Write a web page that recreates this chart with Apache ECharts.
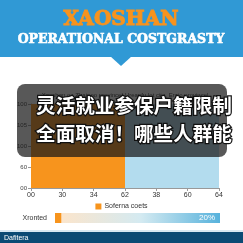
<!DOCTYPE html>
<html><head><meta charset="utf-8">
<script src="https://cdn.jsdelivr.net/npm/echarts@6/dist/echarts.min.js"></script>
<style>html,body{margin:0;padding:0;background:#fff}#c{width:243px;height:243px}</style>
</head><body><div id="c"></div>
<script>
var xLabels = ['00','30','34','62','38','60','64'];
var yLabels = ['00','60','100','105','100'];
var barCategories = ['A','B'];
var barValues = [4, 4];
var barColors = ['#f7941d', '#b3dcee'];
var progressCategories = ['Xronted'];
var progressStart = [4];
var progressRest = [96];
var progressLabel = '20%';
var seriesName = 'Soferna coets';

var chart = echarts.init(document.getElementById('c'));
var F = 'Liberation Sans, Arial, sans-serif';
chart.setOption({
  animation: false,
  backgroundColor: '#fff',
  grid: [
    {left: 31, right: 24, top: 104, bottom: 55},
    {left: 55, right: 23, top: 213, height: 10}
  ],
  xAxis: [
    {gridIndex: 0, type: 'value', min: 0, max: 6, interval: 1,
     axisLine: {show: true, lineStyle: {color: '#999'}},
     axisTick: {show: true, length: 3, lineStyle: {color: '#999'}},
     axisLabel: {fontSize: 7, color: '#333', fontFamily: F, margin: 4, formatter: function(v){return xLabels[v];}},
     splitLine: {show: false}},
    {gridIndex: 0, type: 'category', data: barCategories, show: false, boundaryGap: true},
    {gridIndex: 1, type: 'value', min: 0, max: 100, show: false}
  ],
  yAxis: [
    {gridIndex: 0, type: 'value', min: 0, max: 4, interval: 1,
     axisLine: {show: true, lineStyle: {color: '#999'}},
     axisTick: {show: true, length: 3, lineStyle: {color: '#999'}},
     axisLabel: {fontSize: 6, color: '#444', fontFamily: F, margin: 4, formatter: function(v){return yLabels[v];}},
     splitLine: {show: false}},
    {gridIndex: 1, type: 'category', data: progressCategories,
     axisLine: {show: false}, axisTick: {show: false},
     axisLabel: {fontSize: 7, color: '#333', fontFamily: F, margin: 8}}
  ],
  legend: {top: 198, left: 'center', itemWidth: 6, itemHeight: 6, icon: 'rect', itemGap: 4,
    textStyle: {fontSize: 7, color: '#333', fontFamily: F, padding: [0,0,0,-2]}, data: [seriesName]},
  series: [
    {name: seriesName, type: 'bar', xAxisIndex: 1, yAxisIndex: 0, barWidth: '100%', barCategoryGap: '0%',
     itemStyle: {color: barColors[0]},
     data: barValues.map(function(v, i){ return {value: v, itemStyle: {color: barColors[i]}}; })},
    {type: 'bar', xAxisIndex: 2, yAxisIndex: 1, stack: 'p', barWidth: 10, itemStyle: {color: '#f7941d'}, data: progressStart},
    {type: 'bar', xAxisIndex: 2, yAxisIndex: 1, stack: 'p', barWidth: 10,
     itemStyle: {color: new echarts.graphic.LinearGradient(0,0,1,0,[
       {offset: 0, color: '#fbe5cc'}, {offset: 0.5, color: '#d4eaf1'}, {offset: 1, color: '#57b2dc'}])},
     label: {show: true, position: 'insideRight', color: '#fff', fontSize: 8, fontFamily: F, offset: [0,0], formatter: function(){return progressLabel;}},
     data: progressRest}
  ],
  graphic: [
    {type: 'rect', shape: {x: 0, y: 0, width: 243, height: 57}, style: {fill: '#3099d5'}, z: 10},
    {type: 'polygon', shape: {points: [[110,56],[132,56],[121,66]]}, style: {fill: '#3099d5'}, z: 10},
    {type: 'text', x: 121, y: 20, z: 11, style: {text: 'XAOSHAN', fill: '#f7931e', stroke: '#f7931e', lineWidth: 1, font: 'bold 20px "DejaVu Serif"', align: 'center', verticalAlign: 'middle'}},
    {type: 'text', x: 121, y: 40, z: 11, style: {text: 'OPERATIONAL COSTGRASTY', fill: '#fff', stroke: '#fff', lineWidth: 0.6, font: 'bold 12.5px "DejaVu Serif"', align: 'center', verticalAlign: 'middle'}},
    {type: 'text', x: 125, y: 95, z: 5, style: {text: 'Xaoshan oo Zhaiaoo provincel | Ireaofu lot cite, Eraio provincel', fill: '#333', font: '6px ' + F, align: 'center', verticalAlign: 'middle'}},
    {type: 'rect', shape: {x: 17, y: 84, width: 210, height: 73, r: 8}, style: {fill: 'rgba(24,24,24,0.72)'}, z: 50},
    {type: 'text', x: 134, y: 106, z: 51, style: {text: '灵活就业参保户籍限制', fill: '#fff', stroke: '#111', lineWidth: 2.5, font: 'bold 19.6px "Noto Sans CJK SC"', align: 'center', verticalAlign: 'middle'}},
    {type: 'text', x: 134, y: 134, z: 51, style: {text: '全面取消！哪些人群能', fill: '#fff', stroke: '#111', lineWidth: 2.5, font: 'bold 19.6px "Noto Sans CJK SC"', align: 'center', verticalAlign: 'middle'}},
    {type: 'rect', shape: {x: 0, y: 230, width: 243, height: 2}, style: {fill: '#d8e8f2'}, z: 10},
    {type: 'rect', shape: {x: 0, y: 232, width: 243, height: 11}, style: {fill: '#0b4a74'}, z: 10},
    {type: 'text', x: 4, y: 238, z: 11, style: {text: 'Dafitera', fill: '#fff', font: '7px ' + F, verticalAlign: 'middle'}}
  ]
});
</script></body></html>
